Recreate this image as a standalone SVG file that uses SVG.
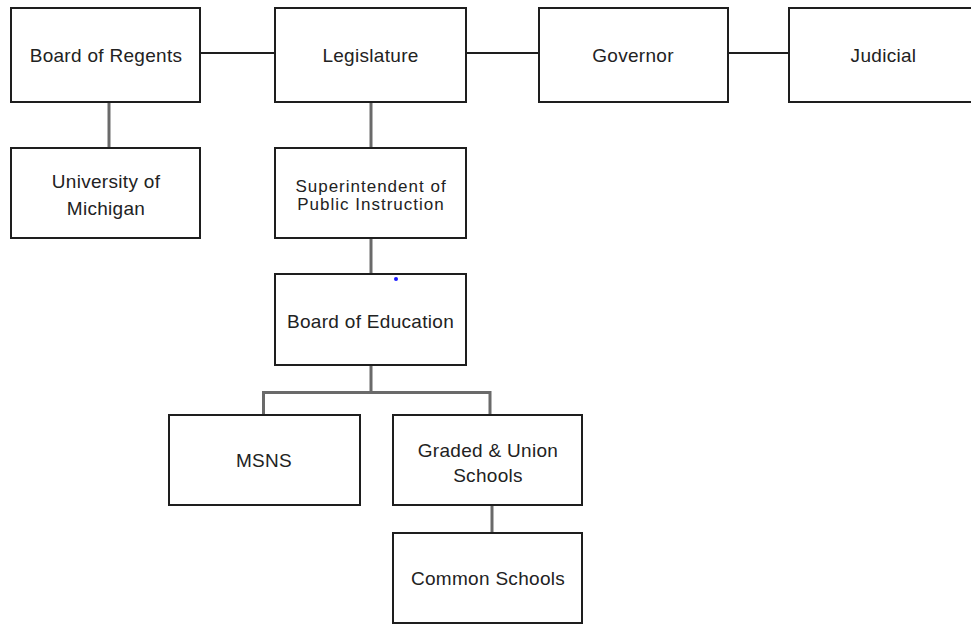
<svg xmlns="http://www.w3.org/2000/svg" width="971" height="624" viewBox="0 0 971 624">
<style>
.box{fill:#fff;stroke:#1e1e1e;stroke-width:2}
.t{font-family:"Liberation Sans",Arial,sans-serif;font-size:19px;fill:#222;text-anchor:middle;letter-spacing:0.3px}
.ts{font-family:"Liberation Sans",Arial,sans-serif;font-size:17px;fill:#222;text-anchor:middle;letter-spacing:1px}
.h{stroke:#1e1e1e;stroke-width:2;fill:none}
.v{stroke:#6a6a6a;stroke-width:3;fill:none}
</style>
<rect width="971" height="624" fill="#fff"/>
<g id="connectors">
<line class="h" x1="201" y1="53" x2="275" y2="53"/>
<line class="h" x1="466" y1="53" x2="539" y2="53"/>
<line class="h" x1="728" y1="53" x2="789" y2="53"/>
<line class="v" x1="109" y1="102" x2="109" y2="148"/>
<line class="v" x1="371" y1="102" x2="371" y2="148"/>
<line class="v" x1="371" y1="238" x2="371" y2="274"/>
<path class="v" d="M371 365 V392.5 M263.5 415 V392.5 H490 V415" stroke-width="2.5"/>
<line class="v" x1="492" y1="505" x2="492" y2="533" stroke-width="2.5"/>
</g>
<g id="board-of-regents">
<rect class="box" x="11" y="8" width="189" height="94"/>
<text class="t" x="106" y="62">Board of Regents</text>
</g>
<g id="legislature">
<rect class="box" x="275" y="8" width="191" height="94"/>
<text class="t" x="370.5" y="62">Legislature</text>
</g>
<g id="governor">
<rect class="box" x="539" y="8" width="189" height="94"/>
<text class="t" x="633" y="62">Governor</text>
</g>
<g id="judicial">
<rect class="box" x="789" y="8" width="189" height="94"/>
<text class="t" x="883.5" y="62">Judicial</text>
</g>
<g id="university-of-michigan">
<rect class="box" x="11" y="148" width="189" height="90"/>
<text class="t" x="106" y="188">University of</text>
<text class="t" x="106" y="215">Michigan</text>
</g>
<g id="superintendent">
<rect class="box" x="275" y="148" width="191" height="90"/>
<text class="ts" x="371" y="192">Superintendent of</text>
<text class="ts" x="371" y="209.5">Public Instruction</text>
</g>
<g id="board-of-education">
<rect class="box" x="275" y="274" width="191" height="91"/>
<text class="t" x="370.5" y="328">Board of Education</text>
<circle cx="396" cy="279" r="2" fill="#1a1aff"/>
</g>
<g id="msns">
<rect class="box" x="169" y="415" width="191" height="90"/>
<text class="t" x="264" y="467">MSNS</text>
</g>
<g id="graded-union-schools">
<rect class="box" x="393" y="415" width="189" height="90"/>
<text class="t" x="488" y="456.5">Graded &amp; Union</text>
<text class="t" x="488" y="482">Schools</text>
</g>
<g id="common-schools">
<rect class="box" x="393" y="533" width="189" height="90"/>
<text class="t" x="488" y="585">Common Schools</text>
</g>
</svg>
